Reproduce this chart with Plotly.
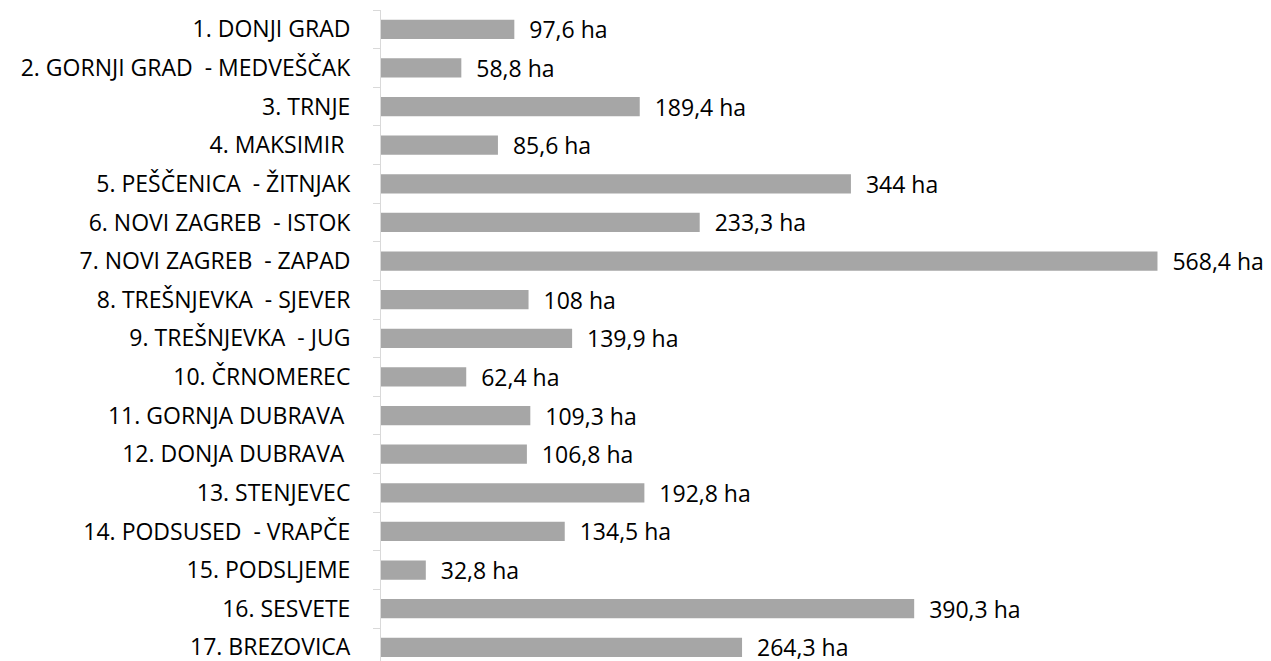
import plotly.graph_objects as go

categories = [
    "1. DONJI GRAD",
    "2. GORNJI GRAD\u00a0 - MEDVEŠČAK",
    "3. TRNJE",
    "4. MAKSIMIR\u00a0",
    "5. PEŠČENICA\u00a0 - ŽITNJAK",
    "6. NOVI ZAGREB\u00a0 - ISTOK",
    "7. NOVI ZAGREB\u00a0 - ZAPAD",
    "8. TREŠNJEVKA\u00a0 - SJEVER",
    "9. TREŠNJEVKA\u00a0 - JUG",
    "10. ČRNOMEREC",
    "11. GORNJA DUBRAVA\u00a0",
    "12. DONJA DUBRAVA\u00a0",
    "13. STENJEVEC",
    "14. PODSUSED\u00a0 - VRAPČE",
    "15. PODSLJEME",
    "16. SESVETE",
    "17. BREZOVICA",
]
values = [97.6, 58.8, 189.4, 85.6, 344, 233.3, 568.4, 108, 139.9, 62.4,
          109.3, 106.8, 192.8, 134.5, 32.8, 390.3, 264.3]
value_labels = ["97,6 ha", "58,8 ha", "189,4 ha", "85,6 ha", "344 ha", "233,3 ha",
                "568,4 ha", "108 ha", "139,9 ha", "62,4 ha", "109,3 ha", "106,8 ha",
                "192,8 ha", "134,5 ha", "32,8 ha", "390,3 ha", "264,3 ha"]

font_family = "'Open Sans', 'Noto Sans', sans-serif"

fig = go.Figure(go.Bar(
    x=values,
    y=categories,
    orientation="h",
    marker=dict(color="#a6a6a6", line=dict(width=0)),
    width=0.5,
    text=["\u00a0\u00a0" + t for t in value_labels],
    textposition="outside",
    constraintext="none",
    cliponaxis=False,
    textfont=dict(family=font_family, size=23, color="#000000"),
    hoverinfo="skip",
))

band = 38.625
plot_h = 651
fig.update_layout(
    template="none",
    width=1263,
    height=653,
    margin=dict(l=373, r=0, t=2, b=0, pad=0),
    paper_bgcolor="white",
    plot_bgcolor="white",
    showlegend=False,
    xaxis=dict(
        range=[0, 651.5],
        visible=False,
        fixedrange=True,
        automargin=False,
    ),
    yaxis=dict(
        type="category",
        categoryorder="array",
        categoryarray=categories,
        range=[-0.5 + plot_h / band, -0.5],
        automargin=False,
        showline=True,
        linecolor="#d9d9d9",
        linewidth=1,
        ticks="outside",
        tickson="boundaries",
        ticklen=7,
        tickcolor="#d9d9d9",
        tickwidth=1,
        ticklabelstandoff=25,
        showgrid=False,
        zeroline=False,
        tickfont=dict(family=font_family, size=23, color="#000000"),
        fixedrange=True,
    ),
)

fig.write_html("out.html")
